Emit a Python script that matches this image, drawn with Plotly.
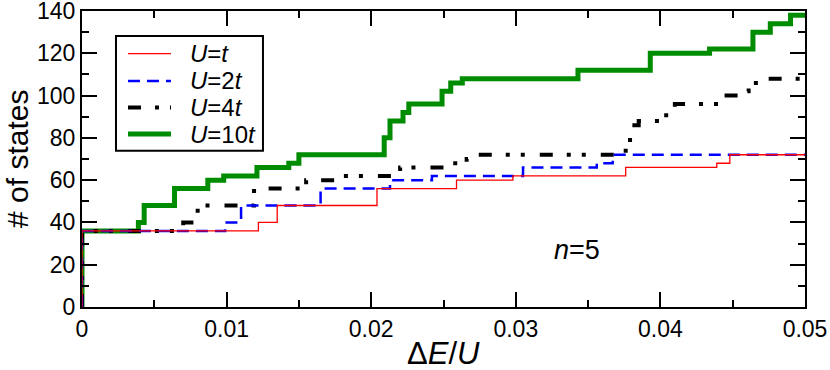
import plotly.graph_objects as go

# step curves: x = energy where the count jumps, y = count after the jump
x_u1 = [0, 0, 0.0122, 0.0135, 0.0204, 0.0259, 0.0298, 0.0376, 0.0439, 0.0448, 0.05]
y_u1 = [0, 36, 40, 48, 56, 60, 62, 66, 68, 72, 72]

x_u2 = [0, 0, 0.0099, 0.0110, 0.0165, 0.0213, 0.0242, 0.0305, 0.0356, 0.0367, 0.05]
y_u2 = [0, 36, 40, 48, 56, 60, 62, 66, 68, 72, 72]

x_u4 = [0, 0, 0.0070, 0.0080, 0.0119, 0.0155, 0.0177, 0.0220, 0.0256, 0.0266, 0.0273,
        0.0376, 0.0379, 0.0382, 0.0385, 0.0404, 0.0410, 0.0444, 0.0452, 0.0461, 0.0472, 0.05]
y_u4 = [0, 36, 40, 48, 56, 60, 62, 66, 68, 70, 72,
        76, 80, 86, 88, 92, 96, 100, 102, 106, 108, 108]

x_u10 = [0, 0, 0.0039, 0.0043, 0.0064, 0.0087, 0.0098, 0.0121, 0.0143, 0.0150, 0.0209,
         0.0213, 0.0222, 0.0226, 0.0249, 0.0255, 0.0263, 0.0343, 0.0393, 0.0434, 0.0464,
         0.0476, 0.0490, 0.05]
y_u10 = [0, 36, 40, 48, 56, 60, 62, 66, 68, 72, 80,
         88, 92, 96, 102, 106, 108, 112, 120, 122, 130,
         134, 138, 138]

labels = ["<i>U</i>=<i>t</i>", "<i>U</i>=2<i>t</i>", "<i>U</i>=4<i>t</i>", "<i>U</i>=10<i>t</i>"]

FONT = "Liberation Sans, Arial, sans-serif"

styles = [
    dict(color="#ff0000", width=1.3),
    dict(color="#0000ff", width=2.5, dash="12px,7px"),
    dict(color="black", width=4, dash="13px,14px,4px,11px,4px,15px"),
    dict(color="#008c00", width=5),
]
series = [(x_u1, y_u1), (x_u2, y_u2), (x_u4, y_u4), (x_u10, y_u10)]

fig = go.Figure()
# green underneath, red on top
for i in [3, 2, 1, 0]:
    xs, ys = series[i]
    fig.add_trace(go.Scatter(x=xs, y=ys, mode="lines", line_shape="hv",
                             line=styles[i], name=labels[i], showlegend=False))

# hand-made legend box (plotly's own legend rows are too tall for this font size)
fig.add_shape(type="rect", xref="paper", yref="paper", x0=0.047, x1=0.2503, y0=0.528, y1=0.9157,
              line=dict(color="black", width=2), fillcolor="white", layer="above")
row_y = [0.856, 0.7639, 0.674, 0.5843]
for i in range(4):
    st = styles[i]
    fig.add_shape(type="line", xref="paper", yref="paper", x0=0.0636, x1=0.1231,
                  y0=row_y[i], y1=row_y[i], layer="above",
                  line=dict(color=st["color"], width=st["width"], dash=st.get("dash", "solid")))
    fig.add_annotation(xref="paper", yref="paper", x=0.1466, y=row_y[i], text=labels[i],
                       xanchor="left", yanchor="middle", showarrow=False,
                       font=dict(size=24, color="black", family=FONT))

fig.add_annotation(x=0.0342, y=27, text="<i>n</i>=5", showarrow=False,
                   font=dict(size=27, color="black", family=FONT))

# axis titles
fig.add_annotation(xref="paper", yref="paper", x=0.5, y=-0.157, text="Δ<i>E</i>/<i>U</i>",
                   showarrow=False, xanchor="center", yanchor="middle",
                   font=dict(size=31, color="black", family=FONT))
fig.add_annotation(xref="paper", yref="paper", x=-0.09, y=0.5, text="# of states",
                   showarrow=False, xanchor="center", yanchor="middle", textangle=-90,
                   font=dict(size=30, color="black", family=FONT))

axis_common = dict(showline=True, linewidth=2, linecolor="black", mirror="allticks",
                   ticks="inside", ticklen=15, tickwidth=2, tickcolor="black",
                   showgrid=False, zeroline=False, automargin=False,
                   ticklabeloverflow="allow",
                   tickfont=dict(size=23, color="black", family=FONT))

fig.update_xaxes(range=[0, 0.05], dtick=0.01, tick0=0,
                 minor=dict(dtick=0.005, ticks="inside", ticklen=7, tickwidth=2, tickcolor="black"),
                 **axis_common)
fig.update_yaxes(range=[0, 140], dtick=20, tick0=0,
                 minor=dict(dtick=10, ticks="inside", ticklen=7, tickwidth=2, tickcolor="black"),
                 **axis_common)

fig.update_layout(
    width=830, height=370,
    margin=dict(l=82, r=25, t=11, b=63),
    plot_bgcolor="white", paper_bgcolor="white",
    font=dict(family=FONT, color="black"),
    showlegend=False,
)

# drop the browser's default 8px body margin so the figure sits at the page corner
fig.write_html("out.html", config={"displayModeBar": False},
               post_script="document.body.style.margin='0';")
